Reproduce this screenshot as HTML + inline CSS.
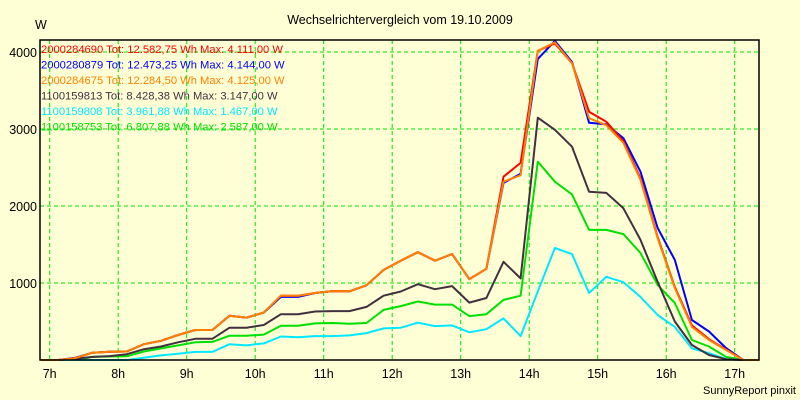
<!DOCTYPE html>
<html><head><meta charset="utf-8"><style>
body{margin:0;background:#ffffd6;}
svg{display:block;font-family:"Liberation Sans",sans-serif;}
</style></head><body>
<svg id="chart" width="800" height="400">
<rect x="0" y="0" width="800" height="400" fill="#ffffd6"/>
<text x="400" y="24" font-size="12.5" text-anchor="middle" fill="#000">Wechselrichtervergleich vom 19.10.2009</text>
<text x="35" y="29" font-size="12.5" fill="#000">W</text>
<text x="796" y="394" font-size="11" text-anchor="end" fill="#000">SunnyReport pinxit</text>
<g id="grid"></g>
<g id="yticks"></g>
<g id="xticks"></g>
<g id="lines"></g>
<rect x="40" y="40" width="719" height="320" fill="none" stroke="#000" stroke-width="1.5"/>
<g id="legend"></g>
</svg>
<script>
const hourTicks = [7,8,9,10,11,12,13,14,15,16,17];
const yTickValues = [1000,2000,3000,4000];
const startHour = 6.875;
const stepHour = 0.25;
const orangeValues = [0,0,25,95,108,110,205,250,325,390,390,575,550,615,835,835,870,895,892,970,1170,1290,1400,1290,1375,1050,1185,2315,2400,4015,4125,3855,3140,3050,2820,2340,1585,935,430,260,130,0,0];
const redValues    = [0,0,25,95,108,110,205,250,325,390,390,575,550,615,835,835,870,895,892,970,1170,1290,1400,1290,1375,1050,1185,2380,2560,4015,4111,3855,3225,3095,2840,2360,1600,950,450,270,135,0,0];
const blueValues   = [0,0,30,95,108,110,205,250,325,390,390,575,550,615,820,820,870,895,892,970,1170,1290,1400,1290,1375,1050,1185,2300,2420,3910,4144,3870,3080,3060,2880,2445,1715,1300,520,370,155,0,0];
const darkValues   = [0,0,15,40,50,75,140,175,230,275,275,420,420,455,595,595,630,635,635,690,835,890,985,920,960,745,805,1275,1060,3147,2990,2770,2185,2170,1970,1560,1015,500,195,65,10,0,0];
const greenValues  = [0,0,0,40,45,48,110,150,190,230,235,315,315,330,445,445,475,480,470,480,650,700,760,720,720,570,595,780,835,2575,2315,2150,1690,1690,1635,1390,975,740,260,175,40,0,0];
const cyanValues   = [0,0,0,0,0,0,30,60,80,105,105,205,190,215,305,295,310,310,320,350,410,420,485,440,450,360,400,540,310,891,1455,1375,870,1080,1010,820,585,430,150,90,10,0,0];
const seriesNames = ["2000284690 Tot: 12.582,75 Wh Max: 4.111,00 W","2000280879 Tot: 12.473,25 Wh Max: 4.144,00 W","2000284675 Tot: 12.284,50 Wh Max: 4.125,00 W","1100159813 Tot: 8.428,38 Wh Max: 3.147,00 W","1100159808 Tot: 3.961,88 Wh Max: 1.467,00 W","1100158753 Tot: 6.807,88 Wh Max: 2.587,00 W"];

const NS="http://www.w3.org/2000/svg";
function xScale(h){return 49.7+68.5*(h-7);}
function yScale(v){return 360-v*0.077;}
function mk(tag,parent,attrs){const e=document.createElementNS(NS,tag);for(const k in attrs)e.setAttribute(k,attrs[k]);parent.appendChild(e);return e;}
const grid=document.getElementById('grid'),yt=document.getElementById('yticks'),xt=document.getElementById('xticks');
yTickValues.forEach(v=>{
  const l=mk('line',grid,{x1:40,x2:759,y1:yScale(v),y2:yScale(v),stroke:'#00e000','stroke-dasharray':'4,3'});
  
  
  const t=mk('text',yt,{x:37,y:yScale(v)+5,'font-size':'12.5','text-anchor':'end',fill:'#000'});
  t.textContent=v;
  
  
});
hourTicks.forEach(h=>{
  const l=mk('line',grid,{x1:xScale(h),x2:xScale(h),y1:40,y2:360,stroke:'#00e000','stroke-dasharray':'4,3'});
  
  
  const t=mk('text',xt,{x:xScale(h),y:378,'font-size':'12.5','text-anchor':'middle',fill:'#000'});
  t.textContent=h+'h';
  
  
});
const lines=document.getElementById('lines');
function drawSeries(vals,color,name){
  const pts=vals.map((v,i)=>{let x=xScale(startHour+i*stepHour);x=Math.max(40,Math.min(759,x));return x.toFixed(1)+','+yScale(v).toFixed(1);}).join(' ');
  const p=mk('polyline',lines,{points:pts,fill:'none',stroke:color,'stroke-width':2,'stroke-linejoin':'round'});
  
  
}
drawSeries(greenValues,'#00e000','series-1100158753');
drawSeries(cyanValues,'#00e8ff','series-1100159808');
drawSeries(darkValues,'#403040','series-1100159813');
drawSeries(blueValues,'#0000ff','series-2000280879');
drawSeries(redValues,'#ff0000','series-2000284690');
drawSeries(orangeValues,'#ff8000','series-2000284675');
const legendColors=['#ff0000','#0000ff','#ff8000','#403040','#00e8ff','#00e000'];
const lg=document.getElementById('legend');
seriesNames.forEach((n,i)=>{
  const t=mk('text',lg,{x:41,y:53+i*15.5,'font-size':'11.2',fill:legendColors[i]});
  t.textContent=n;
  
  
});
</script>
</body></html>
